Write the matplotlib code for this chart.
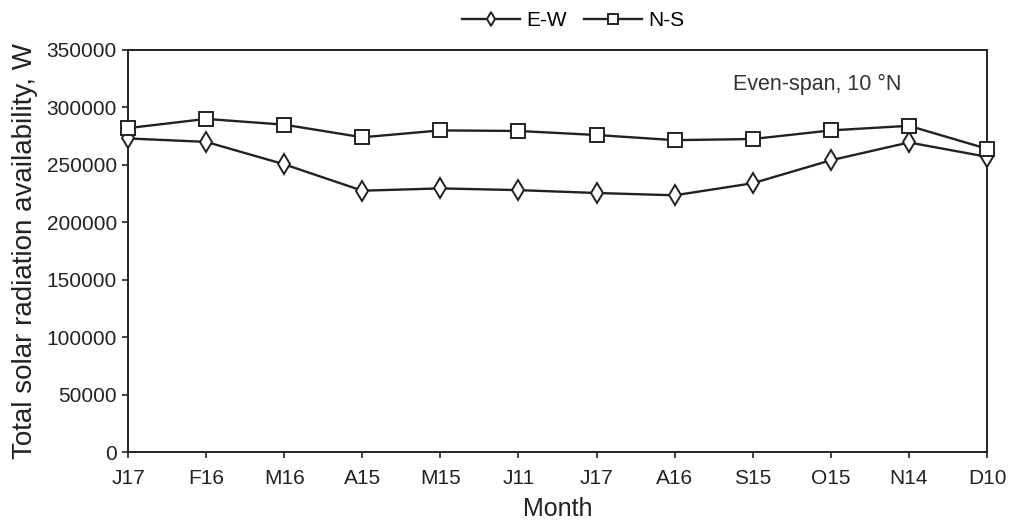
import matplotlib
matplotlib.use("Agg")
import matplotlib.pyplot as plt

plt.rcParams['font.family'] = ['Liberation Sans', 'DejaVu Sans']

months = ["J17", "F16", "M16", "A15", "M15", "J11", "J17", "A16", "S15", "O15", "N14", "D10"]
ew = [273000, 270000, 250500, 227500, 229500, 228000, 225500, 223500, 234000, 254000, 269500, 257000]
ns = [282000, 290000, 285000, 274000, 280000, 279500, 276000, 271500, 272500, 280000, 284000, 264000]

fig = plt.figure(figsize=(10.13, 5.25), dpi=100)
ax = fig.add_axes([128 / 1013, 1 - 452 / 525, (987 - 128) / 1013, (452 - 50) / 525])

x = list(range(len(months)))
line_kw = dict(color="#222222", linewidth=1.7, markerfacecolor="white",
               markeredgecolor="#222222", markeredgewidth=1.4, clip_on=False, zorder=3)
ax.plot(x, ew, marker="d", markersize=10, label="E-W", **line_kw)
ax.plot(x, ns, marker="s", markersize=10, label="N-S", **line_kw)

ax.set_xlim(0, 11)
ax.set_ylim(0, 350000)
ax.set_yticks(range(0, 350001, 50000))
ax.set_xticks(x)
ax.set_xticklabels(months)
ax.tick_params(axis="both", direction="out", length=4, width=1.2, labelsize=15,
               colors="#222222")
ax.tick_params(axis="x", pad=8)
ax.tick_params(axis="y", pad=4)
for s in ax.spines.values():
    s.set_linewidth(1.4)
    s.set_color("#222222")

ax.set_xlabel("Month", fontsize=18, color="#222222", labelpad=7)
ax.set_ylabel("Total solar radiation availability, W", fontsize=20, color="#222222", labelpad=6)

ax.text(0.704, 0.915, "Even-span, 10 °N", transform=ax.transAxes, fontsize=15.5,
        color="#333333", ha="left", va="center")

ax.legend(loc="lower center", bbox_to_anchor=(0.518, 1.0), ncol=2, frameon=False,
          fontsize=15, handlelength=2.8, columnspacing=0.8, handletextpad=0.3,
          borderaxespad=0.55, markerscale=0.75)

fig.savefig("out.png", dpi=100, facecolor="white")
